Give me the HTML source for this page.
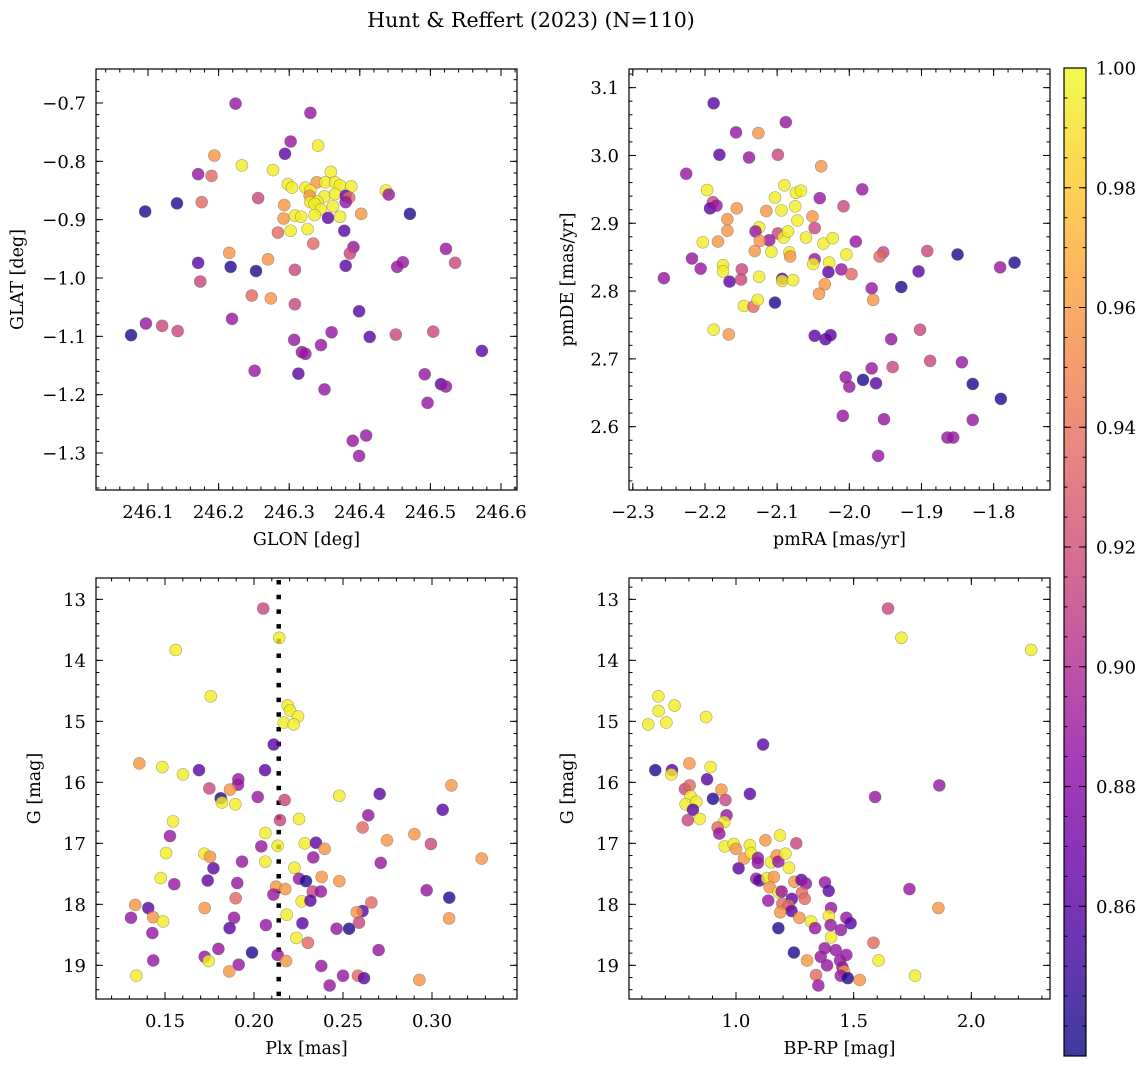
<!DOCTYPE html>
<html><head><meta charset="utf-8">
<style>
html,body{margin:0;padding:0;background:#fff;}
svg{display:block;font-family:"DejaVu Serif","Liberation Serif",serif;}
</style></head>
<body>
<svg id="fig" width="1148" height="1068" viewBox="0 0 1148 1068" xmlns="http://www.w3.org/2000/svg">
<text x="531" y="27" font-size="20.5" text-anchor="middle">Hunt &amp; Reffert (2023) (N=110)</text>
<defs>
<linearGradient id="cbgrad" x1="0" y1="1" x2="0" y2="0">
<stop offset="0" stop-color="#0d0887"/><stop offset="0.1" stop-color="#41049d"/><stop offset="0.2" stop-color="#6a00a8"/><stop offset="0.3" stop-color="#8f0da4"/><stop offset="0.4" stop-color="#b12a90"/><stop offset="0.5" stop-color="#cc4778"/><stop offset="0.6" stop-color="#e16462"/><stop offset="0.7" stop-color="#f2844b"/><stop offset="0.8" stop-color="#fca636"/><stop offset="0.9" stop-color="#fcce25"/><stop offset="1" stop-color="#f0f921"/>
</linearGradient>
</defs>
<g id="layer"></g>
</svg>
<script>
// Panel 1: GLON / GLAT
const glon=[246.224,246.330,246.302,246.294,246.341,246.194,246.233,246.277,246.171,246.190,246.359,246.298,246.304,246.323,246.339,246.351,246.365,246.372,246.388,246.330,246.329,246.350,246.365,246.380,246.385,246.437,246.441,246.096,246.141,246.176,246.256,246.330,246.340,246.380,246.293,246.336,246.345,246.362,246.471,246.402,246.292,246.308,246.317,246.336,246.355,246.372,246.284,246.302,246.326,246.378,246.334,246.391,246.386,246.215,246.270,246.522,246.535,246.171,246.217,246.253,246.308,246.380,246.453,246.461,246.174,246.247,246.274,246.308,246.399,246.219,246.076,246.097,246.120,246.142,246.307,246.360,246.414,246.451,246.504,246.573,246.318,246.323,246.345,246.251,246.313,246.350,246.492,246.515,246.522,246.496,246.390,246.409,246.399];
const glat=[-0.701,-0.717,-0.766,-0.787,-0.773,-0.790,-0.807,-0.815,-0.822,-0.825,-0.818,-0.839,-0.845,-0.845,-0.836,-0.836,-0.836,-0.841,-0.843,-0.850,-0.859,-0.860,-0.856,-0.859,-0.862,-0.850,-0.857,-0.886,-0.872,-0.870,-0.863,-0.870,-0.869,-0.870,-0.875,-0.873,-0.882,-0.877,-0.890,-0.890,-0.898,-0.893,-0.895,-0.892,-0.897,-0.895,-0.922,-0.919,-0.916,-0.919,-0.941,-0.947,-0.958,-0.957,-0.968,-0.950,-0.974,-0.974,-0.981,-0.988,-0.986,-0.979,-0.981,-0.973,-1.006,-1.030,-1.035,-1.045,-1.057,-1.070,-1.098,-1.078,-1.082,-1.091,-1.106,-1.093,-1.101,-1.097,-1.092,-1.125,-1.127,-1.130,-1.115,-1.159,-1.164,-1.191,-1.165,-1.182,-1.186,-1.214,-1.279,-1.270,-1.305];
const prob1="pppvyoyyps"+"yyyyoyyyyy"+"oyyvsypbbs"+"myypoyyybo"+"oyyyvysyyv"+"spmoopmvbb"+"mvppmsomvp"+"bpmmppvmmv"+"ppppvppvpp"+"ppp";
// Panel 2: pmRA / pmDE
const pmra=[-2.188,-2.088,-2.157,-2.126,-2.180,-2.139,-2.099,-2.039,-2.226,-2.197,-2.090,-2.074,-2.067,-2.041,-1.982,-2.103,-2.189,-2.193,-2.184,-2.156,-2.115,-2.094,-2.075,-2.008,-2.169,-2.169,-2.051,-2.072,-2.048,-2.125,-2.130,-2.099,-2.111,-2.091,-2.085,-2.060,-2.203,-2.182,-2.124,-2.131,-2.108,-2.083,-2.082,-2.036,-2.023,-1.991,-2.004,-1.953,-1.958,-1.892,-1.850,-1.771,-1.791,-2.257,-2.218,-2.206,-2.175,-2.175,-2.166,-2.149,-2.150,-2.125,-2.093,-2.093,-2.078,-2.048,-2.050,-2.028,-2.029,-2.011,-1.997,-1.904,-2.034,-2.042,-1.969,-1.967,-1.928,-2.146,-2.133,-2.127,-2.103,-2.188,-2.167,-2.048,-2.033,-2.026,-1.942,-1.902,-1.940,-1.888,-1.844,-2.005,-2.000,-1.981,-1.969,-1.963,-1.829,-1.790,-2.009,-1.952,-1.829,-1.864,-1.856,-1.960];
const pmde=[3.077,3.049,3.034,3.033,3.001,2.997,3.001,2.984,2.973,2.949,2.956,2.945,2.948,2.937,2.950,2.938,2.931,2.922,2.926,2.922,2.918,2.919,2.925,2.925,2.906,2.889,2.910,2.904,2.893,2.894,2.888,2.885,2.875,2.879,2.888,2.879,2.872,2.873,2.874,2.859,2.858,2.857,2.851,2.870,2.878,2.873,2.854,2.857,2.851,2.859,2.854,2.842,2.835,2.819,2.848,2.833,2.838,2.829,2.814,2.832,2.817,2.821,2.818,2.815,2.816,2.847,2.840,2.842,2.828,2.832,2.825,2.829,2.810,2.796,2.804,2.787,2.806,2.778,2.777,2.787,2.783,2.743,2.736,2.734,2.729,2.735,2.729,2.743,2.688,2.697,2.695,2.673,2.659,2.669,2.686,2.664,2.663,2.641,2.616,2.611,2.610,2.584,2.584,2.557];
const prob2="vppovpmopy"+"yyyppymvpo"+"oyymoooymy"+"pmpyyyyooo"+"yyoyypymsm"+"bbppppyyvm"+"myvyypyyvp"+"svoopobysy"+"byovvvpmmm"+"pppbpvbbpp"+"pppp";
// Panel 3: Plx / G
const plx=[0.2052,0.2142,0.1560,0.1757,0.2189,0.2202,0.2247,0.2167,0.2223,0.2111,0.1356,0.1485,0.1601,0.1691,0.2062,0.1912,0.1910,0.1749,0.1865,0.1813,0.1820,0.1895,0.2021,0.2172,0.2479,0.3109,0.2706,0.3060,0.2642,0.1545,0.1528,0.2146,0.2253,0.2610,0.2064,0.2133,0.2041,0.2285,0.2348,0.2397,0.2747,0.2901,0.2994,0.3279,0.1506,0.1721,0.1753,0.1772,0.1933,0.2064,0.2333,0.2712,0.2227,0.1476,0.1552,0.1740,0.1906,0.2253,0.2292,0.2380,0.2479,0.2124,0.2176,0.2109,0.2330,0.2376,0.2268,0.2317,0.2970,0.3097,0.1333,0.1406,0.1897,0.1723,0.2659,0.2610,0.2577,0.1309,0.1433,0.1489,0.1888,0.2184,0.3096,0.1429,0.1863,0.2067,0.2272,0.2464,0.2534,0.2590,0.2238,0.2303,0.1800,0.1989,0.2133,0.2180,0.2700,0.1434,0.1723,0.1745,0.1914,0.1861,0.1339,0.2378,0.2500,0.2584,0.2618,0.2425,0.2929];
const gmag3=[13.15,13.63,13.83,14.59,14.74,14.82,14.92,15.02,15.05,15.38,15.69,15.75,15.87,15.80,15.80,15.95,16.04,16.10,16.12,16.26,16.33,16.36,16.24,16.29,16.22,16.05,16.19,16.45,16.54,16.64,16.88,16.62,16.60,16.74,16.83,17.04,17.05,17.00,16.99,17.09,16.95,16.85,17.01,17.25,17.16,17.17,17.22,17.41,17.30,17.30,17.23,17.32,17.40,17.57,17.67,17.61,17.65,17.58,17.62,17.55,17.62,17.71,17.75,17.84,17.79,17.79,17.95,17.94,17.77,17.89,18.01,18.06,17.90,18.06,17.97,18.11,18.13,18.22,18.21,18.28,18.22,18.17,18.23,18.47,18.39,18.34,18.31,18.40,18.40,18.30,18.55,18.63,18.73,18.79,18.83,18.93,18.75,18.92,18.86,18.93,18.99,19.10,19.17,19.01,19.17,19.17,19.21,19.33,19.24];
const prob3="myyyyyyyyv"+"oyyvvppmob"+"yypmyovvpy"+"pmysyypyvo"+"oomoyyovpy"+"ppyypvppbo"+"ooopmpyvpb"+"ovsosvopoy"+"pyopvpvpbm"+"yspbpopppy"+"poyppsvpo";
// Panel 4: BP-RP / G
const bprp=[1.646,1.703,2.254,0.670,0.739,0.671,0.873,0.704,0.627,1.115,0.657,0.728,0.725,0.802,0.892,0.877,1.864,1.591,0.783,0.803,0.938,0.902,0.955,1.059,0.807,0.786,0.831,0.817,0.795,0.846,0.960,0.950,0.922,0.929,1.187,1.125,1.256,0.952,0.990,1.000,1.034,1.059,1.064,1.093,1.093,1.011,1.149,1.173,1.180,1.210,1.225,1.086,1.099,1.132,1.161,1.143,1.181,1.194,1.137,1.237,1.197,1.248,1.278,1.297,1.280,1.292,1.378,1.394,1.224,1.236,1.188,1.269,1.319,1.336,1.180,1.404,1.395,1.402,1.446,1.469,1.487,1.404,1.737,1.860,1.584,1.246,1.302,1.377,1.424,1.360,1.387,1.469,1.442,1.452,1.459,1.445,1.475,1.340,1.350,1.526,1.606,1.761];
const gmag4=[13.15,13.63,13.83,14.59,14.74,14.83,14.93,15.02,15.05,15.38,15.80,15.80,15.87,15.69,15.75,15.95,16.05,16.24,16.11,16.05,16.12,16.27,16.29,16.19,16.23,16.36,16.32,16.45,16.62,16.60,16.54,16.65,16.74,16.84,16.87,16.95,17.00,17.05,17.01,17.09,17.25,17.03,17.16,17.24,17.32,17.41,17.31,17.20,17.30,17.17,17.40,17.58,17.61,17.57,17.55,17.72,17.80,17.79,17.94,17.91,17.99,17.63,17.60,17.66,17.81,17.91,17.64,17.78,18.02,18.11,18.13,18.22,18.28,18.39,18.39,18.06,18.19,18.34,18.42,18.22,18.31,18.54,17.75,18.06,18.63,18.79,18.92,18.72,18.75,18.86,19.00,18.83,18.92,19.03,19.10,19.17,19.21,19.16,19.33,19.24,18.92,19.17];
const prob4="myyyyyyyyv"+"bvyoyvppms"+"obmvyyyvmy"+"pyspyomyyo"+"oyyppvyopy"+"ypvyooyppv"+"sovpsspvsv"+"ooypbpyppp"+"vyposboppp"+"ppppopbspo"+"yy";
const groupProb={b:0.840,v:0.862,p:0.888,m:0.915,s:0.935,o:0.958,y:0.995};
const cbTicks=[0.86,0.88,0.90,0.92,0.94,0.96,0.98,1.00];
const plxRef=[0.2139];

const NS="http://www.w3.org/2000/svg";
const layer=document.getElementById('layer');
function mk(tag,attrs,parent){const e=document.createElementNS(NS,tag);for(const k in attrs)e.setAttribute(k,attrs[k]);(parent||layer).appendChild(e);return e;}
const stops=[[13,8,135],[65,4,157],[106,0,168],[143,13,164],[177,42,144],[204,71,120],[225,100,98],[242,132,75],[252,166,54],[252,206,37],[240,249,33]];
const VMIN=0.835,VMAX=1.0;
function cmap(v){let t=(v-VMIN)/(VMAX-VMIN);t=Math.max(0,Math.min(1,t));const f=t*10,i=Math.min(9,Math.floor(f)),r=f-i;const a=stops[i],b=stops[i+1];return 'rgb('+[0,1,2].map(k=>Math.round(a[k]+(b[k]-a[k])*r)).join(',')+')';}
function fmt(v,d){return (v<0?'\u2212':'')+Math.abs(v).toFixed(d);}
function range(a,b,s){const r=[];for(let v=Math.ceil(a/s-1e-6)*s;v<=b+1e-9;v+=s)r.push(Math.round(v/s)*s);return r;}
const FS=18;

function panel(o){
  const {x0,y0,w,h}=o;
  const sx=v=>x0+(v-o.xmin)/(o.xmax-o.xmin)*w;
  const sy=v=>o.yinv? y0+(v-o.ymin)/(o.ymax-o.ymin)*h : y0+h-(v-o.ymin)/(o.ymax-o.ymin)*h;
  const g=mk('g',{});
  
  
  const lo=Math.min(o.ymin,o.ymax),hi=Math.max(o.ymin,o.ymax);
  if(o.vline){const l=mk('line',{x1:sx(o.vline[0]),x2:sx(o.vline[0]),y1:y0+2,y2:y0+h,stroke:'#000','stroke-width':4.5,'stroke-dasharray':'4.5 10.2'},g);
    
    }
  const pg=mk('g',{},g);
  
  
  for(let i=0;i<o.xs.length;i++){
    const p=groupProb[o.cs[i]]||0.89;
    const c=mk('circle',{cx:sx(o.xs[i]),cy:sy(o.ys[i]),r:6,fill:cmap(p),'fill-opacity':0.8,stroke:'#555','stroke-opacity':0.5,'stroke-width':0.6},pg);
    
    
  }
  const f=mk('rect',{x:x0,y:y0,width:w,height:h,fill:'none',stroke:'#000','stroke-width':1.2},g);
  
  
  const tg=mk('g',{stroke:'#000','stroke-width':1},g);
  range(o.xmin,o.xmax,o.xminor).forEach(v=>{const X=sx(v);mk('line',{x1:X,x2:X,y1:y0+h,y2:y0+h-3.5},tg);mk('line',{x1:X,x2:X,y1:y0,y2:y0+3.5},tg);});
  range(lo,hi,o.yminor).forEach(v=>{const Y=sy(v);mk('line',{x1:x0,x2:x0+3.5,y1:Y,y2:Y},tg);mk('line',{x1:x0+w,x2:x0+w-3.5,y1:Y,y2:Y},tg);});
  range(o.xmin,o.xmax,o.xmajor).forEach(v=>{const X=sx(v);mk('line',{x1:X,x2:X,y1:y0+h,y2:y0+h-7},tg);mk('line',{x1:X,x2:X,y1:y0,y2:y0+7},tg);
    const t=mk('text',{x:X,y:y0+h+28,'font-size':FS,'text-anchor':'middle'},g);t.textContent=fmt(v,o.xd);
    
    });
  range(lo,hi,o.ymajor).forEach(v=>{const Y=sy(v);mk('line',{x1:x0,x2:x0+7,y1:Y,y2:Y},tg);mk('line',{x1:x0+w,x2:x0+w-7,y1:Y,y2:Y},tg);
    const t=mk('text',{x:x0-10,y:Y+6.5,'font-size':FS,'text-anchor':'end'},g);t.textContent=fmt(v,o.yd);
    
    });
  const xl=mk('text',{x:x0+w/2,y:y0+h+55,'font-size':17.5,'text-anchor':'middle'},g);xl.textContent=o.xlabel;
  
  
  const yx=o.ylx,yy=y0+h/2;
  const yl=mk('text',{x:yx,y:yy,'font-size':17.5,'text-anchor':'middle',transform:'rotate(-90 '+yx+' '+yy+')'},g);yl.textContent=o.ylabel;
  
  
}
panel({name:'glon-glat-panel',x0:96,y0:69,w:421,h:421,xmin:246.0263,xmax:246.6227,ymin:-1.3634,ymax:-0.6417,xmajor:0.1,xminor:0.02,ymajor:0.1,yminor:0.02,xd:1,yd:1,xs:glon,ys:glat,cs:prob1,xlabel:'GLON [deg]',ylabel:'GLAT [deg]',ylx:23});
panel({name:'proper-motion-panel',x0:629,y0:69,w:421,h:421,xmin:-2.3053,xmax:-1.7219,ymin:2.5066,ymax:3.1275,xmajor:0.1,xminor:0.02,ymajor:0.1,yminor:0.02,xd:1,yd:1,xs:pmra,ys:pmde,cs:prob2,xlabel:'pmRA [mas/yr]',ylabel:'pmDE [mas/yr]',ylx:573});
panel({name:'parallax-cmd-panel',x0:96,y0:578,w:421,h:421,xmin:0.11124,xmax:0.34775,ymin:12.650,ymax:19.552,yinv:true,xmajor:0.05,xminor:0.01,ymajor:1,yminor:0.2,xd:2,yd:0,xs:plx,ys:gmag3,cs:prob3,xlabel:'Plx [mas]',ylabel:'G [mag]',ylx:40,vline:plxRef});
panel({name:'color-magnitude-panel',x0:629,y0:578,w:421,h:421,xmin:0.5453,xmax:2.3343,ymin:12.650,ymax:19.552,yinv:true,xmajor:0.5,xminor:0.1,ymajor:1,yminor:0.2,xd:1,yd:0,xs:bprp,ys:gmag4,cs:prob4,xlabel:'BP-RP [mag]',ylabel:'G [mag]',ylx:573});

(function(){
  const x=1064,y=68,w=22,h=988;
  const g=mk('g',{});
  
  
  mk('rect',{x:x,y:y,width:w,height:h,fill:'url(#cbgrad)','fill-opacity':0.8},g);
  mk('rect',{x:x,y:y,width:w,height:h,fill:'none',stroke:'#000','stroke-width':1.2},g);
  const sy=v=>y+(VMAX-v)/(VMAX-VMIN)*h;
  range(VMIN,VMAX,0.005).forEach(v=>{const Y=sy(v);mk('line',{x1:x+w,x2:x+w-3.5,y1:Y,y2:Y,stroke:'#000'},g);mk('line',{x1:x,x2:x+3.5,y1:Y,y2:Y,stroke:'#000'},g);});
  cbTicks.forEach(v=>{const Y=sy(v);mk('line',{x1:x+w,x2:x+w-7,y1:Y,y2:Y,stroke:'#000'},g);mk('line',{x1:x,x2:x+7,y1:Y,y2:Y,stroke:'#000'},g);
    const t=mk('text',{x:x+w+10,y:Y+6.5,'font-size':FS},g);t.textContent=v.toFixed(2);
    
    });
})();
</script>
</body></html>
